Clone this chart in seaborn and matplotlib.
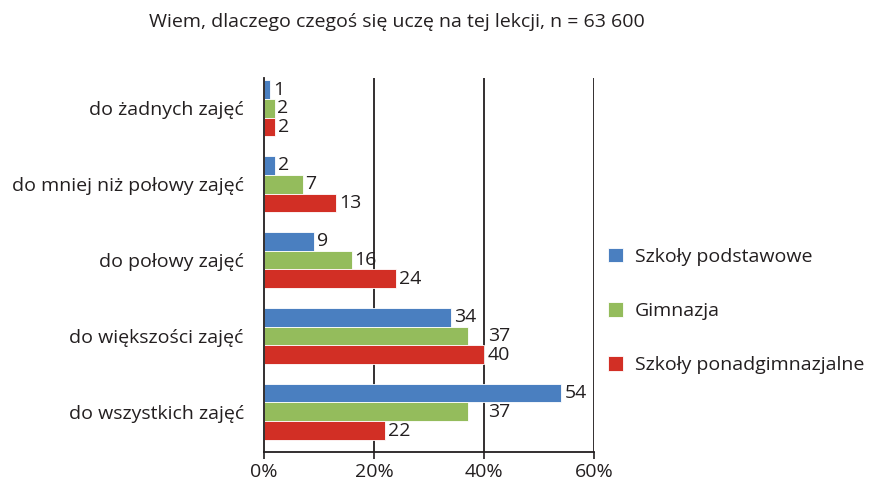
import matplotlib
matplotlib.use("Agg")
import matplotlib.pyplot as plt
import seaborn as sns
import pandas as pd

# data
categories = ["do żadnych zajęć", "do mniej niż połowy zajęć", "do połowy zajęć",
              "do większości zajęć", "do wszystkich zajęć"]
series = ["Szkoły podstawowe", "Gimnazja", "Szkoły ponadgimnazjalne"]
podstawowe = [1, 2, 9, 34, 54]
gimnazja = [2, 7, 16, 37, 37]
ponadgim = [2, 13, 24, 40, 22]
colors = ["#4a7fc0", "#94bc5c", "#d22f25"]
x_ticks = [0, 20, 40, 60]
title = "Wiem, dlaczego czegoś się uczę na tej lekcji, n = 63 600"

df = pd.DataFrame({
    "kategoria": categories * 3,
    "szkoła": [s for s in series for _ in categories],
    "wartość": podstawowe + gimnazja + ponadgim,
})

FS = 14
INK = "#231f20"

sns.set_style("white")
plt.rcParams["font.family"] = ["Open Sans", "DejaVu Sans"]

fig = plt.figure(figsize=(8.73, 4.82), dpi=100)
ax = fig.add_axes([264 / 873, 1 - 452 / 482, 330 / 873, 374 / 482])

sns.barplot(data=df, y="kategoria", x="wartość", hue="szkoła", orient="h",
            palette=colors, saturation=1, width=0.74, order=categories,
            hue_order=series, edgecolor="white", linewidth=0.6, ax=ax, legend=True)

# value labels (the two 37s sit past the 40% line in the original)
for cont, s in zip(ax.containers, series):
    vals = df.loc[df["szkoła"] == s, "wartość"].tolist()
    labels = [str(v) for v in vals]
    if s == "Gimnazja":
        for rect, v, lab in zip(cont, vals, labels):
            x = rect.get_width()
            if v == 37:
                x = 40.4
            ax.text(x + 0.4, rect.get_y() + rect.get_height() / 2, lab,
                    va="center", ha="left", fontsize=FS, color=INK)
    else:
        ax.bar_label(cont, labels=labels, padding=2.5, fontsize=FS, color=INK)

ax.set_xlim(0, 60)
ax.set_ylim(4.53, -0.4)
ax.set_xticks(x_ticks)
ax.set_xticklabels([f"{t}%" for t in x_ticks], fontsize=FS, color=INK)
ax.tick_params(axis="x", bottom=True, length=5, width=1.2, color=INK, pad=3)
ax.tick_params(axis="y", left=False, pad=11, labelsize=FS, labelcolor=INK)
ax.set_xlabel("")
ax.set_ylabel("")
for t in x_ticks[1:]:
    ax.axvline(t, color=INK, lw=1.3, zorder=0)
for side in ["top", "right"]:
    ax.spines[side].set_visible(False)
for side in ["left", "bottom"]:
    ax.spines[side].set_color(INK)
    ax.spines[side].set_linewidth(1.3)

handles, labs = ax.get_legend_handles_labels()
ax.get_legend().remove()
fig.legend(handles, labs, loc="upper left", bbox_to_anchor=(590 / 873, 1 - 230 / 482),
           frameon=False, fontsize=FS, handlelength=0.8, handleheight=0.8,
           handletextpad=0.6, labelspacing=1.85, labelcolor=INK)

fig.text(397 / 873, 1 - 22 / 482, title, ha="center", va="center",
         fontsize=FS, color=INK)

fig.savefig("out.png", dpi=100)
